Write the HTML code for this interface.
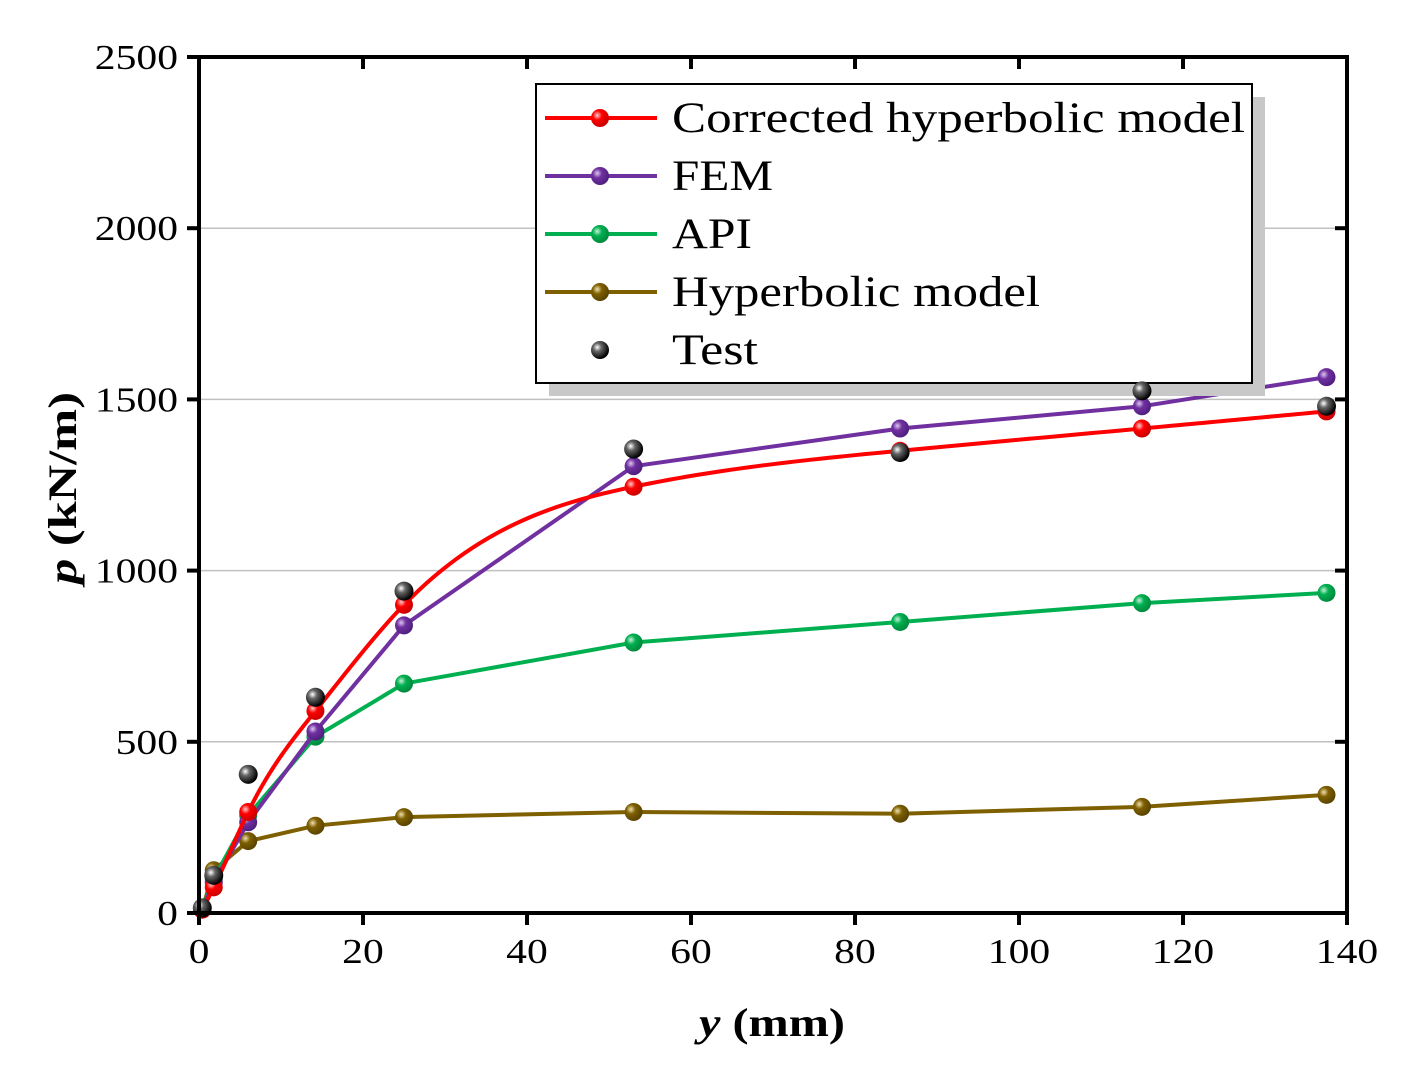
<!DOCTYPE html>
<html><head><meta charset="utf-8"><style>
body{margin:0;background:#fff}
svg text{font-family:"Liberation Serif",serif}
</style></head><body>
<svg id="chart" width="1413" height="1074" viewBox="0 0 1413 1074" xmlns="http://www.w3.org/2000/svg">
<defs>
<radialGradient id="gb" cx="35%" cy="35%" r="65%"><stop offset="0" stop-color="#fff"/><stop offset="0.35" stop-color="#666"/><stop offset="1" stop-color="#000"/></radialGradient>
<radialGradient id="gr" cx="35%" cy="35%" r="65%"><stop offset="0" stop-color="#fcc"/><stop offset="0.4" stop-color="#f00"/><stop offset="1" stop-color="#c00"/></radialGradient>
<radialGradient id="gp" cx="35%" cy="35%" r="65%"><stop offset="0" stop-color="#dcc8ee"/><stop offset="0.4" stop-color="#7030a0"/><stop offset="1" stop-color="#502080"/></radialGradient>
<radialGradient id="gg" cx="35%" cy="35%" r="65%"><stop offset="0" stop-color="#c8f0d8"/><stop offset="0.4" stop-color="#00b050"/><stop offset="1" stop-color="#008a3e"/></radialGradient>
<radialGradient id="gh" cx="35%" cy="35%" r="65%"><stop offset="0" stop-color="#f0e0b0"/><stop offset="0.4" stop-color="#7f6000"/><stop offset="1" stop-color="#5a4400"/></radialGradient>
</defs>
<g id="grid"></g>
<g id="series"></g>
<g id="legend"></g>
<g id="testg"></g>
<g id="axes"></g>
</svg>
<script>
const xs = [0.4, 1.8, 6, 14.2, 25, 53, 85.5, 115, 137.5];
const testVals = [15, 110, 405, 630, 940, 1355, 1345, 1525, 1480];
const corrVals = [10, 75, 295, 590, 900, 1245, 1350, 1415, 1465];
const femVals = [10, 90, 265, 530, 840, 1305, 1415, 1480, 1565];
const apiVals = [10, 100, 285, 515, 670, 790, 850, 905, 935];
const hypVals = [10, 125, 210, 255, 280, 295, 290, 310, 345];
const xTicks = [0, 20, 40, 60, 80, 100, 120, 140];
const yTicks = [0, 500, 1000, 1500, 2000, 2500];

const X0=199,X1=1347,Y0=913,Y1=57;
const sx=v=>X0+(v/140)*(X1-X0);
const sy=v=>Y0-(v/2500)*(Y0-Y1);
const NS='http://www.w3.org/2000/svg';
function mk(tag,attrs,parent){const e=document.createElementNS(NS,tag);for(const k in attrs)e.setAttribute(k,attrs[k]);parent.appendChild(e);return e;}
const grid=document.getElementById('grid'),series=document.getElementById('series'),axes=document.getElementById('axes'),legend=document.getElementById('legend'),testg=document.getElementById('testg');

yTicks.forEach(t=>{if(t>0&&t<2500){const l=mk('line',{x1:X0,x2:X1,y1:sy(t),y2:sy(t),stroke:'#c0c0c0','stroke-width':1.5},grid);

}});

// natural cubic spline in data space
function splinePath(xv,yv){
 const n=xv.length,h=[],a=[],l=[1],mu=[0],z=[0],c=new Array(n).fill(0),b=[],d=[];
 for(let i=0;i<n-1;i++)h[i]=xv[i+1]-xv[i];
 for(let i=1;i<n-1;i++)a[i]=3/h[i]*(yv[i+1]-yv[i])-3/h[i-1]*(yv[i]-yv[i-1]);
 for(let i=1;i<n-1;i++){l[i]=2*(xv[i+1]-xv[i-1])-h[i-1]*mu[i-1];mu[i]=h[i]/l[i];z[i]=(a[i]-h[i-1]*z[i-1])/l[i];}
 l[n-1]=1;z[n-1]=0;
 for(let j=n-2;j>=0;j--){c[j]=z[j]-mu[j]*c[j+1];b[j]=(yv[j+1]-yv[j])/h[j]-h[j]*(c[j+1]+2*c[j])/3;d[j]=(c[j+1]-c[j])/(3*h[j]);}
 let dstr=`M${sx(xv[0])},${sy(yv[0])}`;
 for(let j=0;j<n-1;j++){for(let k=1;k<=30;k++){const t=h[j]*k/30;const y=yv[j]+b[j]*t+c[j]*t*t+d[j]*t*t*t;dstr+=` L${sx(xv[j]+t)},${sy(y)}`;}}
 return dstr;
}

const defs=[
 {vals:hypVals,color:'#7f6000',grad:'gh',name:'hyperbolic'},
 {vals:apiVals,color:'#00b050',grad:'gg',name:'api'},
 {vals:femVals,color:'#7030a0',grad:'gp',name:'fem'},
 {vals:corrVals,color:'#ff0000',grad:'gr',name:'corrected',smooth:true}];
defs.forEach(s=>{
 const pts=xs.map((x,i)=>[sx(x),sy(s.vals[i])]);
 const d=s.smooth?splinePath(xs,s.vals):'M'+pts.map(p=>p.join(',')).join(' L');
 const p=mk('path',{d:d,fill:'none',stroke:s.color,'stroke-width':4},series);
 
 
 pts.forEach(q=>{const c=mk('circle',{cx:q[0],cy:q[1],r:9,fill:`url(#${s.grad})`},series);
 
 });
});
xs.forEach((x,i)=>{const c=mk('circle',{cx:sx(x),cy:sy(testVals[i]),r:9.5,fill:'url(#gb)'},testg);

});

// legend
let r=mk('rect',{x:549,y:97,width:716,height:299,fill:'#c8c8c8'},legend);


r=mk('rect',{x:536,y:84,width:716,height:299,fill:'#fff',stroke:'#000','stroke-width':2},legend);


const leg=[['Corrected hyperbolic model','#ff0000','gr',573],['FEM','#7030a0','gp',101],['API','#00b050','gg',80],['Hyperbolic model','#7f6000','gh',368],['Test',null,'gb',86]];
leg.forEach((e,i)=>{const y=118+i*58;
 const g=mk('g',{},legend);
 
 
 if(e[1])mk('line',{x1:545,x2:657,y1:y,y2:y,stroke:e[1],'stroke-width':4},g);
 mk('circle',{cx:600,cy:y,r:9,fill:`url(#${e[2]})`},g);
 const t=mk('text',{x:672,y:y+14,'font-size':43,fill:'#000',textLength:e[3],lengthAdjust:'spacingAndGlyphs'},g);t.textContent=e[0];});

// frame & ticks
r=mk('rect',{x:X0,y:Y1,width:X1-X0,height:Y0-Y1,fill:'none',stroke:'#000','stroke-width':4},axes);


const tw=s=>s.length*20.8;
xTicks.forEach(t=>{const x=sx(t);
 mk('line',{x1:x,x2:x,y1:Y0,y2:Y0+12,stroke:'#000','stroke-width':4},axes);
 mk('line',{x1:x,x2:x,y1:Y1,y2:Y1+12,stroke:'#000','stroke-width':4},axes);
 const tx=mk('text',{x:x,y:963,'font-size':35,'text-anchor':'middle',textLength:tw(String(t)),lengthAdjust:'spacingAndGlyphs'},axes);tx.textContent=t;
 
 });
yTicks.forEach(t=>{const y=sy(t);
 mk('line',{x1:X0-12,x2:X0,y1:y,y2:y,stroke:'#000','stroke-width':4},axes);
 mk('line',{x1:X1-12,x2:X1,y1:y,y2:y,stroke:'#000','stroke-width':4},axes);
 const tx=mk('text',{x:178,y:y+12,'font-size':35,'text-anchor':'end',textLength:tw(String(t)),lengthAdjust:'spacingAndGlyphs'},axes);tx.textContent=t;
 
 });
</script>
<svg style="position:absolute;left:0;top:0" width="1413" height="1074">
<text x="772" y="1036" font-size="40" font-weight="bold" text-anchor="middle" textLength="146" lengthAdjust="spacingAndGlyphs" font-family="Liberation Serif,serif"><tspan font-style="italic">y</tspan> (mm)</text>
<text transform="translate(76,488) rotate(-90)" font-size="40" font-weight="bold" text-anchor="middle" textLength="192" lengthAdjust="spacingAndGlyphs" font-family="Liberation Serif,serif"><tspan font-style="italic">p</tspan> (kN/m)</text>
</svg>
</body></html>
